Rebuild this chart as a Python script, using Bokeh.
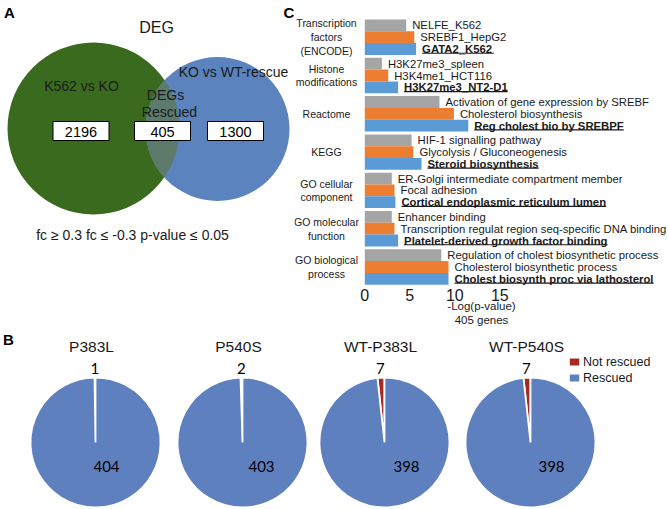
import math
from bokeh.plotting import figure
from bokeh.models import Range1d, ColumnDataSource, FixedTicker
from bokeh.layouts import column, row
from bokeh.embed import file_html
from bokeh.resources import INLINE
from bokeh.core.properties import value

# ---------------- data ----------------
venn_title = "DEG"
venn_sets = ["K562 vs KO", "KO vs WT-rescue"]
venn_overlap_label = ["DEGs", "Rescued"]
venn_counts = [2196, 405, 1300]
venn_note = "fc \u2265 0.3 fc \u2264 -0.3  p-value \u2264 0.05"

bar_groups = ["Transcription\nfactors\n(ENCODE)", "Histone\nmodifications", "Reactome", "KEGG",
              "GO cellular\ncomponent", "GO molecular\nfunction", "GO biological\nprocess"]
grey_terms = ["NELFE_K562", "H3K27me3_spleen", "Activation of gene expression by SREBF",
              "HIF-1 signalling pathway", "ER-Golgi intermediate compartment member",
              "Enhancer binding", "Regulation of cholest biosynthetic process"]
grey_values = [4.6, 1.9, 8.3, 5.2, 3.0, 3.0, 8.5]
orange_terms = ["SREBF1_HepG2", "H3K4me1_HCT116", "Cholesterol biosynthesis",
                "Glycolysis / Gluconeogenesis", "Focal adhesion",
                "Transcription regulat region seq-specific DNA binding", "Cholesterol biosynthetic process"]
orange_values = [5.5, 2.6, 9.9, 5.4, 3.3, 3.3, 9.3]
blue_terms = ["GATA2_K562", "H3K27me3_NT2-D1", "Reg cholest bio by SREBPF", "Steroid biosynthesis",
              "Cortical endoplasmic reticulum lumen", "Platelet-derived growth factor binding",
              "Cholest biosynth proc via lathosterol"]
blue_values = [5.7, 3.7, 11.5, 6.3, 3.4, 3.7, 9.3]
x_ticks = [0, 5, 10, 15]
x_title = "-Log(p-value)"
x_subtitle = "405 genes"

pie_titles = ["P383L", "P540S", "WT-P383L", "WT-P540S"]
not_rescued = [1, 2, 7, 7]
rescued = [404, 403, 398, 398]
pie_series = ["Not rescued", "Rescued"]

# ---------------- layout / style ----------------
FONT = value("Liberation Sans")
TXT = "#1a1a1a"
GREEN, VBLUE, LENS = "#3A6A1E", "#5B83BD", "#5C7B6C"
C_GREY, C_ORANGE, C_BLUE = "#A5A5A5", "#ED7D31", "#5B9BD5"
C_NR, C_R = "#A52A24", "#5F80BF"

VW, BW, TOPH = 294, 374, 330      # top row: Venn | bars
FRAME_BOTTOM = 285                 # shared frame bottom of the top row
BB = TOPH - FRAME_BOTTOM
PW, PH = VW + BW, 179              # bottom row: pies

def clean(p):
    p.xgrid.visible = False
    p.ygrid.visible = False
    p.outline_line_color = None
    p.background_fill_color = "white"
    p.border_fill_color = "white"

# ---------------- A: Venn ----------------
venn = figure(width=VW, height=TOPH, x_range=Range1d(0, VW), y_range=Range1d(FRAME_BOTTOM, 0),
              output_backend="svg", toolbar_location=None, x_axis_location=None, y_axis_location=None,
              min_border_left=0, min_border_right=0, min_border_top=0, min_border_bottom=BB)
clean(venn)
c1, r1 = (93.0, 128.0), 86.0
c2, r2 = (217.0, 128.5), 72.0
venn.circle(x=[c1[0]], y=[c1[1]], radius=r1, fill_color=GREEN, line_color=None)
venn.circle(x=[c2[0]], y=[c2[1]], radius=r2, fill_color=VBLUE, line_color=None)
dx, dy = c2[0] - c1[0], c2[1] - c1[1]
d = math.hypot(dx, dy)
base = math.atan2(dy, dx)
a = (d * d + r1 * r1 - r2 * r2) / (2 * d)
al = math.acos(a / r1)
be = math.acos((d - a) / r2)
lx, ly = [], []
n = 60
for k in range(n + 1):
    t = base - al + 2 * al * k / n
    lx.append(c1[0] + r1 * math.cos(t)); ly.append(c1[1] + r1 * math.sin(t))
for k in range(n + 1):
    t = base + math.pi - be + 2 * be * k / n
    lx.append(c2[0] + r2 * math.cos(t)); ly.append(c2[1] + r2 * math.sin(t))
venn.patch(lx, ly, fill_color=LENS, line_color=None)

venn.text(x=[156], y=[27], text=[venn_title], text_font=FONT, text_font_size="16px",
          text_align="center", text_baseline="middle", text_color=TXT)
venn.text(x=[81, 233], y=[85, 71], text=venn_sets, text_font=FONT, text_font_size="14px",
          text_align="center", text_baseline="middle", text_color=TXT)
venn.text(x=[165, 169], y=[94, 111], text=venn_overlap_label, text_font=FONT, text_font_size="14px",
          text_align="center", text_baseline="middle", text_color=TXT)
box_x = [80.5, 162.0, 235.0]
venn.rect(x=box_x, y=[130.5] * 3, width=56, height=19, fill_color="white", line_color="black",
          line_width=1)
venn.text(x=box_x, y=[131] * 3, text=[str(v) for v in venn_counts], text_font=FONT,
          text_font_size="14.5px", text_align="center", text_baseline="middle", text_color="black")
venn.text(x=[134], y=[234], text=[venn_note], text_font=FONT, text_font_size="14px",
          text_align="center", text_baseline="middle", text_color=TXT)
venn.text(x=[9, 288.5], y=[12, 12], text=["A", "C"], text_font=FONT, text_font_size="15px",
          text_font_style="bold", text_align="center", text_baseline="middle", text_color="black")

# ---------------- C: bar chart ----------------
REF_ZERO, REF_PER_UNIT = 364.3, 9.0
REF_BAR_TOP, REF_BAR_H, REF_STEP = 19.0, 11.8, 38.3
def bx(rx): return (rx - REF_ZERO) / REF_PER_UNIT
def by(ry): return (ry - REF_BAR_TOP) / REF_BAR_H
step = REF_STEP / REF_BAR_H
bar = figure(width=BW, height=TOPH, x_range=Range1d(bx(VW), bx(VW + BW)),
             y_range=Range1d(by(FRAME_BOTTOM), by(0)), output_backend="svg", toolbar_location=None,
             y_axis_location=None, min_border_left=0, min_border_right=0, min_border_top=0,
             min_border_bottom=BB)
clean(bar)
series = [(grey_terms, grey_values, C_GREY, "normal"),
          (orange_terms, orange_values, C_ORANGE, "normal"),
          (blue_terms, blue_values, C_BLUE, "bold")]
gap = 6.0 / REF_PER_UNIT
BOLD_W = {' ': 278, '-': 333, '_': 556, '/': 278, '.': 278,
          'A': 722, 'B': 722, 'C': 722, 'D': 722, 'E': 667, 'F': 611, 'G': 778, 'H': 722, 'I': 278,
          'K': 722, 'L': 611, 'M': 833, 'N': 722, 'O': 778, 'P': 667, 'R': 722, 'S': 667, 'T': 611,
          'a': 556, 'b': 611, 'c': 556, 'd': 611, 'e': 556, 'f': 333, 'g': 611, 'h': 611, 'i': 278,
          'j': 278, 'k': 556, 'l': 278, 'm': 889, 'n': 611, 'o': 611, 'p': 611, 'q': 611, 'r': 389,
          's': 556, 't': 333, 'u': 611, 'v': 556, 'w': 778, 'x': 556, 'y': 556, 'z': 500}
LBL_SIZE = 11.3
for i, (terms, vals, col, style) in enumerate(series):
    ys = [g * step + i + 0.5 for g in range(len(vals))]
    src = ColumnDataSource(dict(y=ys, v=vals, tx=[v + gap for v in vals], t=terms))
    bar.hbar(y="y", left=0, right="v", height=1.0, source=src, fill_color=col, line_color=None)
    bar.text(x="tx", y="y", text="t", source=src, text_font=FONT, text_font_size=f"{LBL_SIZE}px",
             text_font_style=style, text_align="left", text_baseline="middle", text_color=TXT)
    if style == "bold":
        x1 = [tx + sum(BOLD_W.get(ch, 556) for ch in t) / 1000 * LBL_SIZE / REF_PER_UNIT
              for tx, t in zip(src.data["tx"], terms)]
        bar.segment(x0=src.data["tx"], y0=[y + 0.36 for y in ys], x1=x1, y1=[y + 0.36 for y in ys],
                    line_color=TXT, line_width=1.2)
bar.text(x=[bx(326)] * len(bar_groups), y=[g * step + 1.5 for g in range(len(bar_groups))],
         text=bar_groups, text_font=FONT, text_font_size="10.5px", text_align="center",
         text_baseline="middle", text_line_height=1.15, text_color=TXT)
ax = bar.xaxis[0]
ax.ticker = FixedTicker(ticks=x_ticks)
ax.bounds = (0, 2 * bx(478))
ax.axis_line_color = None
ax.major_tick_line_color = None
ax.minor_tick_line_color = None
ax.major_tick_out = 0
ax.major_tick_in = 0
ax.major_label_standoff = 3
ax.major_label_text_font = "Liberation Sans"
ax.major_label_text_font_size = "16px"
ax.major_label_text_color = TXT
ax.axis_label = x_title + "\n" + x_subtitle
ax.axis_label_text_font = "Liberation Sans"
ax.axis_label_text_font_size = "11.5px"
ax.axis_label_text_font_style = "normal"
ax.axis_label_text_color = TXT
ax.axis_label_standoff = -4

# ---------------- B: pies ----------------
pies = figure(width=PW, height=PH, x_range=Range1d(0, PW), y_range=Range1d(-(TOPH + PH), -TOPH),
              output_backend="svg", toolbar_location=None, x_axis_location=None, y_axis_location=None,
              min_border=0)
clean(pies)
PIE_CX = [95.0, 242.0, 384.0, 530.0]
PIE_CY, PIE_R = -442.0, 65.0
INNER_DX = [11, 19, 22, 21]
top = math.pi / 2
nr_end = [top + 2 * math.pi * nr / (nr + r) for nr, r in zip(not_rescued, rescued)]
src_nr = ColumnDataSource(dict(x=PIE_CX, y=[PIE_CY] * 4, s=[top] * 4, e=nr_end))
src_r = ColumnDataSource(dict(x=PIE_CX, y=[PIE_CY] * 4, s=nr_end, e=[top + 2 * math.pi] * 4))
pies.wedge(x="x", y="y", radius=PIE_R, start_angle="s", end_angle="e", direction="anticlock",
           source=src_nr, fill_color=C_NR, line_color="white", line_width=1.8, legend_label=pie_series[0])
pies.wedge(x="x", y="y", radius=PIE_R, start_angle="s", end_angle="e", direction="anticlock",
           source=src_r, fill_color=C_R, line_color="white", line_width=1.8, legend_label=pie_series[1])
mid = [(top + e) / 2 for e in nr_end]
pies.text(x=[cx + (PIE_R + 9.5) * math.cos(m) for cx, m in zip(PIE_CX, mid)],
          y=[PIE_CY + (PIE_R + 9.5) * math.sin(m) for m in mid],
          text=[str(v) for v in not_rescued], text_font=value("Lato"), text_font_size="15px",
          text_align="center", text_baseline="middle", text_color="black")
pies.text(x=[cx + ddx for cx, ddx in zip(PIE_CX, INNER_DX)], y=[PIE_CY - 24] * 4,
          text=[str(v) for v in rescued], text_font=value("Lato"), text_font_size="15px",
          text_align="center", text_baseline="middle", text_color="black")
pies.text(x=[cx - 4 for cx in PIE_CX], y=[-346] * 4, text=pie_titles, text_font=FONT,
          text_font_size="15.5px", text_align="center", text_baseline="middle", text_color=TXT)
pies.text(x=[8], y=[-TOPH - 0.5], text=["B"], text_font=FONT, text_font_size="15px",
          text_font_style="bold", text_align="center", text_baseline="top", text_color="black")
lg = pies.legend[0]
lg.location = (567, TOPH + PH - 384.5)
lg.label_text_font = "Liberation Sans"
lg.label_text_font_size = "12.5px"
lg.label_text_color = TXT
lg.glyph_width = 14
lg.glyph_height = 11
lg.label_height = 12
lg.label_standoff = 2
lg.spacing = 2
lg.padding = 0
lg.margin = 0
lg.border_line_color = None
lg.background_fill_alpha = 0

layout = column(row(venn, bar, spacing=0), pies, spacing=0)
open("out.html", "w").write(file_html(layout, INLINE))
